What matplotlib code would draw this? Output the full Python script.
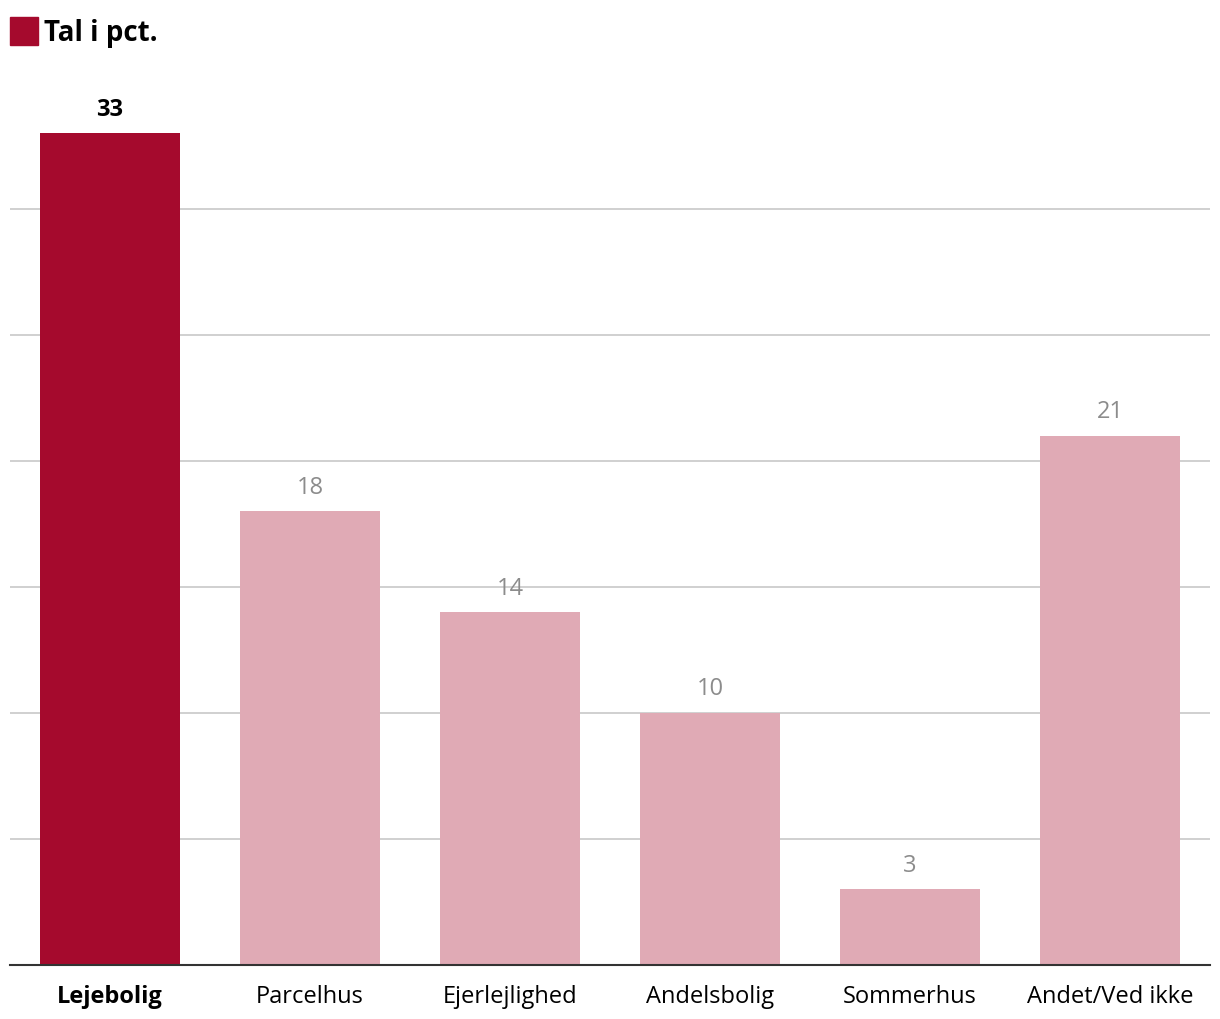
import matplotlib
matplotlib.use("Agg")
import matplotlib.pyplot as plt
from matplotlib.patches import Rectangle

categories = ["Lejebolig", "Parcelhus", "Ejerlejlighed", "Andelsbolig", "Sommerhus", "Andet/Ved ikke"]
values = [33, 18, 14, 10, 3, 21]
highlight = [True, False, False, False, False, False]
legend_label = "Tal i pct."

DARK = "#a50a2d"
LIGHT = "#e0aab5"

plt.rcParams['font.family'] = ['Open Sans', 'DejaVu Sans']

W, H = 1220, 1020
fig = plt.figure(figsize=(W / 100, H / 100), dpi=100)
ax = fig.add_axes([10 / W, (H - 966) / H, 1200 / W, (966 - 84) / H])

x = list(range(len(categories)))
colors = [DARK if h else LIGHT for h in highlight]
ax.bar(x, values, width=0.7, color=colors, zorder=2)
ax.set_xlim(-0.5, len(categories) - 0.5)
ax.set_ylim(0, 35)
ax.set_yticks([5, 10, 15, 20, 25, 30])
ax.yaxis.grid(True, color="#c8c8c8", linewidth=1.2, zorder=0)
ax.tick_params(axis='y', left=False, labelleft=False)
ax.tick_params(axis='x', length=0, pad=14)
ax.set_xticks(x)
ax.set_xticklabels(categories, fontsize=17)
for lbl, h in zip(ax.get_xticklabels(), highlight):
    lbl.set_color("black")
    if h:
        lbl.set_fontweight("bold")
for s in ["top", "right", "left"]:
    ax.spines[s].set_visible(False)
ax.spines["bottom"].set_color("#333333")
ax.spines["bottom"].set_linewidth(1.5)

for xi, v, h in zip(x, values, highlight):
    ax.annotate(str(v), (xi, v), xytext=(0, 9), textcoords="offset points",
                ha="center", va="bottom", fontsize=17,
                color="black" if h else "#8c8c8c",
                fontweight="bold" if h else "normal")

fig.patches.append(Rectangle((10 / W, 1 - 46 / H), 28 / W, 28 / H,
                             transform=fig.transFigure, color=DARK))
fig.text(44 / W, 1 - 34 / H, legend_label, fontsize=20, fontweight="bold",
         va="center", ha="left")

fig.savefig("out.png", dpi=100)
